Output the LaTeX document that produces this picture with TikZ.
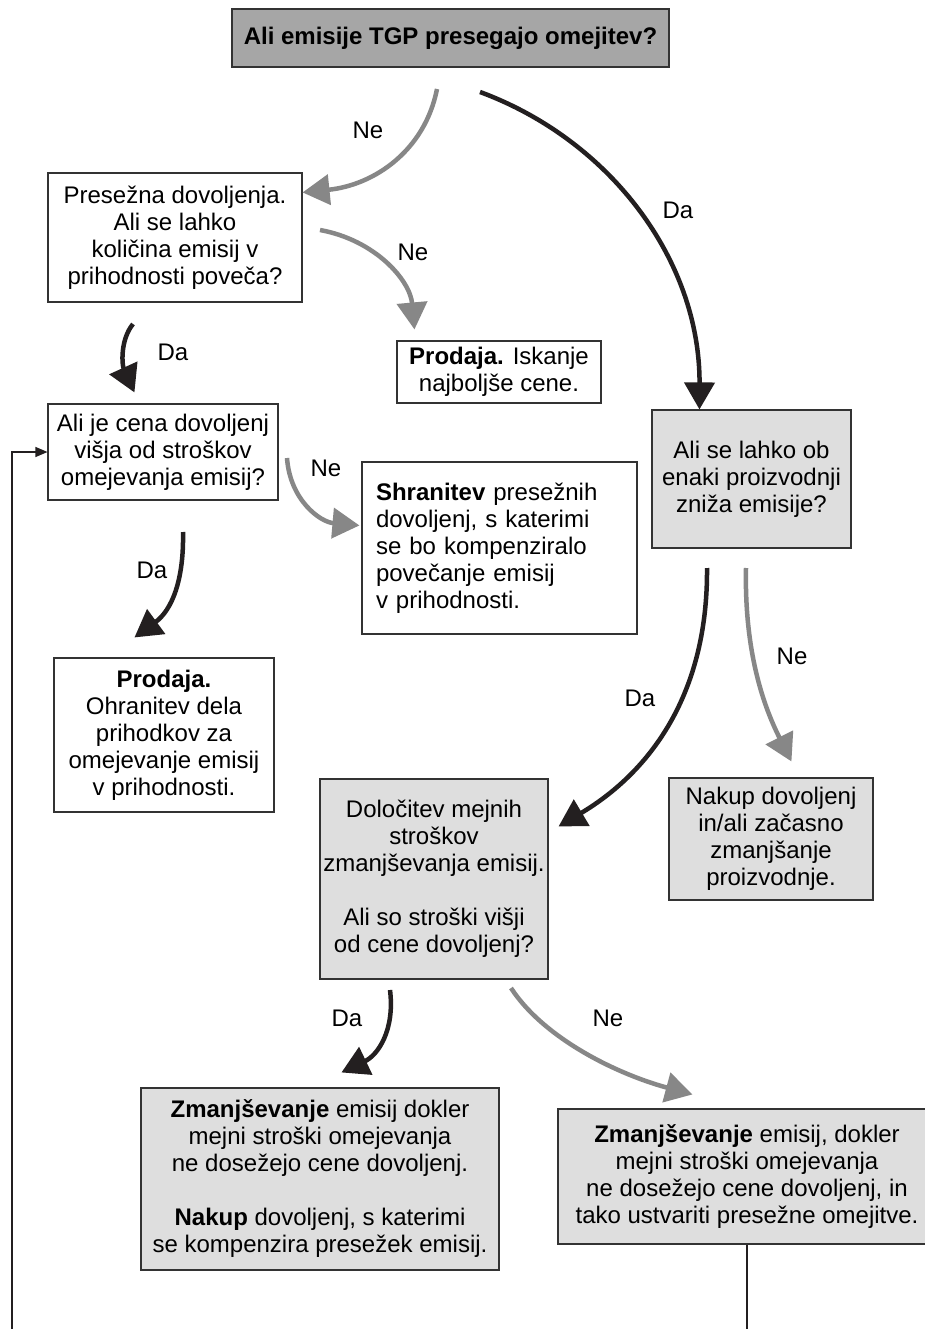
\documentclass[tikz,border=0pt]{standalone}
\usepackage{fontspec}
\setmainfont{Liberation Sans}
\usetikzlibrary{arrows.meta,calc}
\definecolor{arrgray}{HTML}{878787}
\definecolor{arrblack}{HTML}{231F20}
\definecolor{topfill}{HTML}{A6A6A6}
\definecolor{boxfill}{HTML}{DEDEDE}
\definecolor{edge}{HTML}{333333}
\begin{document}
\begin{tikzpicture}[x=1pt,y=-1pt,
  box/.style={draw=edge, line width=1.1pt, fill=white, inner sep=0pt, align=center,
    font=\fontsize{24}{27}\selectfont},
  gbox/.style={box, fill=boxfill},
  lbl/.style={font=\fontsize{24}{27}\selectfont, inner sep=0pt},
  yesarr/.style={draw=arrblack, line width=4.5pt, -{Triangle[length=27pt,width=30pt]}},
  noarr/.style={draw=arrgray, line width=4.5pt, -{Triangle[length=27pt,width=30pt]}},
  thinarr/.style={draw=arrblack, line width=1.1pt, -{Triangle[length=12pt,width=10pt]}},
]
\useasboundingbox (0,0) rectangle (924,1329);
\fill[white] (0,0) rectangle (924,1329);

% boxes
\node[box, fill=topfill, line width=2.5pt, minimum width=437pt, minimum height=58pt,
  font=\fontsize{24}{27}\selectfont\bfseries] (top) at (450.5,38) {Ali emisije TGP presegajo omejitev?};
\node[box, minimum width=254pt, minimum height=129pt] (b2) at (175,237.5)
  {Presežna dovoljenja.\\Ali se lahko\\količina emisij v\\prihodnosti poveča?};
\node[box, minimum width=204pt, minimum height=62pt] (b3) at (499,372)
  {\textbf{Prodaja.} Iskanje\\najboljše cene.};
\node[box, minimum width=230pt, minimum height=96pt] (b4) at (163,452)
  {Ali je cena dovoljenj\\višja od stroškov\\omejevanja emisij?};
\node[box, align=left, inner xsep=14pt, text width=247pt, minimum height=172pt] (b5) at (499.5,548)
  {\textbf{Shranitev} presežnih\\dovoljenj, s katerimi\\se bo kompenziralo\\povečanje emisij\\v prihodnosti.};
\node[box, minimum width=220pt, minimum height=154pt] (b6) at (164,735)
  {\textbf{Prodaja.}\\Ohranitev dela\\prihodkov za\\omejevanje emisij\\v prihodnosti.};
\node[gbox, minimum width=199pt, minimum height=138pt] (b7) at (751.5,479)
  {Ali se lahko ob\\enaki proizvodnji\\zniža emisije?};
\node[gbox, minimum width=228pt, minimum height=200pt] (b8) at (434,879)
  {Določitev mejnih\\stroškov\\zmanjševanja emisij.\\[27pt]Ali so stroški višji\\od cene dovoljenj?};
\node[gbox, minimum width=204pt, minimum height=122pt] (b9) at (771,839)
  {Nakup dovoljenj\\in/ali začasno\\zmanjšanje\\proizvodnje.};
\node[gbox, minimum width=358pt, minimum height=182pt] (b10) at (320,1179)
  {\textbf{Zmanjševanje} emisij dokler\\mejni stroški omejevanja\\ne dosežejo cene dovoljenj.\\[27pt]\textbf{Nakup} dovoljenj, s katerimi\\se kompenzira presežek emisij.};
\node[gbox, minimum width=378pt, minimum height=135pt] (b11) at (747,1176.5)
  {\textbf{Zmanjševanje} emisij, dokler\\mejni stroški omejevanja\\ne dosežejo cene dovoljenj, in\\tako ustvariti presežne omejitve.};

% start coordinates of curved arrows
\coordinate (s1) at (437,89);
\coordinate (s2) at (480,92);
\coordinate (s3) at (320,230);
\coordinate (s4) at (133,324);
\coordinate (s5) at (287,458);
\coordinate (s6) at (183,532);
\coordinate (s7) at (707,568);
\coordinate (s8) at (746,568);
\coordinate (s9) at (390,990);
\coordinate (s10) at (511,988);

\draw[noarr] (s1) .. controls (425,150) and (375,185) .. ($(b2.north east)+(0,20)$);
\draw[yesarr] (s2) .. controls (610,140) and (700,260) .. ($(b7.north west)+(48,0)$);
\draw[noarr] (s3) .. controls (375,240) and (410,280) .. ($(b3.north west)+(18,-11)$);
\draw[yesarr] (s4) .. controls (120,340) and (122,365) .. ($(b4.north west)+(87,-11)$);
\draw[noarr] (s5) .. controls (290,500) and (320,522) .. ($(b5.north west)+(-2,64)$);
\draw[yesarr] (s6) .. controls (184,580) and (172,610) .. ($(b6.north west)+(81,-20)$);
\draw[yesarr] (s7) .. controls (708,700) and (645,775) .. ($(b8.north east)+(10,48)$);
\draw[noarr] (s8) .. controls (744,660) and (768,715) .. ($(b9.north west)+(123,-16)$);
\draw[yesarr] (s9) .. controls (395,1030) and (378,1055) .. ($(b10.north west)+(201,-15)$);
\draw[noarr] (s10) .. controls (545,1040) and (620,1075) .. ($(b11.north west)+(135,-14)$);

% labels
\node[lbl] (l1) at (368,130) {Ne};
\node[lbl] (l2) at (678,210) {Da};
\node[lbl] (l3) at (413,252) {Ne};
\node[lbl] (l4) at (173,352) {Da};
\node[lbl] (l5) at (326,468) {Ne};
\node[lbl] (l6) at (152,570) {Da};
\node[lbl] (l7) at (640,698) {Da};
\node[lbl] (l8) at (792,656) {Ne};
\node[lbl] (l9) at (347,1018) {Da};
\node[lbl] (l10) at (608,1018) {Ne};

% loop-back lines
\coordinate (lb) at (12,1329);
\coordinate (rb) at (747,1329);
\draw[thinarr] (lb) |- (b4.west);
\draw[draw=arrblack, line width=1.1pt] (b11.south) -- (rb);
\end{tikzpicture}
\end{document}
